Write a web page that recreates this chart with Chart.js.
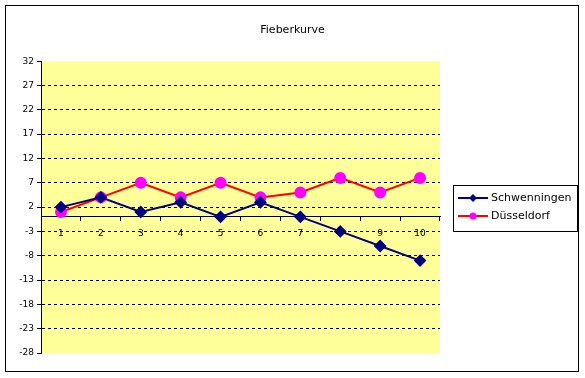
<!DOCTYPE html>
<html>
<head>
<meta charset="utf-8">
<script src="https://cdn.jsdelivr.net/npm/chart.js@4.4.0/dist/chart.umd.min.js"></script>
<style>
  html, body { margin: 0; padding: 0; background: #fff; }
  #wrap { width: 585px; height: 378px; }
</style>
</head>
<body>
<div id="wrap"><canvas id="lineChart" width="585" height="378"></canvas></div>
<script>
// data
var days = ['1', '2', '3', '4', '5', '6', '7', '8', '9', '10'];
var schwenningen = [2, 4, 1, 3, 0, 3, 0, -3, -6, -9];
var duesseldorf = [1, 4, 7, 4, 7, 4, 5, 8, 5, 8];
var yTicks = [32, 27, 22, 17, 12, 7, 2, -3, -8, -13, -18, -23, -28];

var FONT = 'DejaVu Sans';

// outer frame, yellow plot area and the boxed legend (line + marker samples)
var frame = {
    id: 'frame',
    beforeDraw: function(chart) {
        var ctx = chart.ctx, a = chart.chartArea;
        ctx.save();
        ctx.fillStyle = '#ffff99';
        ctx.fillRect(a.left, a.top, a.right - a.left, a.bottom - a.top);
        ctx.restore();
    },
    afterDraw: function(chart) {
        var ctx = chart.ctx;
        ctx.save();
        ctx.strokeStyle = '#000';
        ctx.lineWidth = 1;
        ctx.strokeRect(5.5, 5.5, 573, 366);

        var bx = 453, by = 185, bw = 124, bh = 46;
        ctx.strokeRect(bx + 0.5, by + 0.5, bw, bh);
        ctx.font = '11px ' + FONT;
        ctx.textBaseline = 'middle';
        chart.data.datasets.forEach(function(ds, i) {
            var y = by + 13 + i * 18;
            ctx.strokeStyle = ds.borderColor;
            ctx.lineWidth = 2;
            ctx.beginPath();
            ctx.moveTo(bx + 5, y); ctx.lineTo(bx + 35, y);
            ctx.stroke();
            ctx.fillStyle = ds.backgroundColor;
            ctx.beginPath();
            if (ds.pointStyle === 'rectRot') {
                ctx.moveTo(bx + 20, y - 4); ctx.lineTo(bx + 24, y);
                ctx.lineTo(bx + 20, y + 4); ctx.lineTo(bx + 16, y);
            } else {
                ctx.arc(bx + 20, y, 3.5, 0, Math.PI * 2);
            }
            ctx.closePath();
            ctx.fill();
            ctx.fillStyle = '#000';
            ctx.fillText(ds.label, bx + 38, y);
        });
        ctx.restore();
    }
};

var ctx = document.getElementById('lineChart').getContext('2d');

var feverChart = new Chart(ctx, {
    type: 'line',
    data: {
        labels: days,
        datasets: [{
            label: 'Schwenningen',
            data: schwenningen,
            borderColor: '#000080',
            backgroundColor: '#000080',
            borderWidth: 2,
            pointStyle: 'rectRot',
            pointRadius: 5,
            pointHoverRadius: 5,
            tension: 0
        }, {
            label: 'Düsseldorf',
            data: duesseldorf,
            borderColor: '#ff0000',
            backgroundColor: '#ff00ff',
            pointBorderColor: '#ff00ff',
            borderWidth: 2,
            pointStyle: 'circle',
            pointRadius: 5,
            pointHoverRadius: 5,
            tension: 0
        }]
    },
    options: {
        responsive: false,
        animation: false,
        layout: {
            padding: { left: 0, top: 0, right: 0, bottom: 25 }
        },
        plugins: {
            title: {
                display: true,
                text: 'Fieberkurve',
                color: '#000',
                font: { family: FONT, size: 11, weight: 'normal', lineHeight: 1.2 },
                padding: { top: 24, bottom: 24 }
            },
            legend: { display: false },
            tooltip: { enabled: false }
        },
        scales: {
            x: {
                position: { y: 0 },
                offset: true,
                grid: {
                    offset: true,
                    drawOnChartArea: false,
                    drawTicks: true,
                    tickLength: 4,
                    color: '#000'
                },
                border: { display: true, color: '#000', width: 1 },
                ticks: {
                    color: '#000',
                    font: { family: FONT, size: 9 },
                    padding: 7,
                    maxRotation: 0
                }
            },
            y: {
                min: -28,
                max: 32,
                afterBuildTicks: function(scale) {
                    scale.ticks = yTicks.map(function(v) { return { value: v }; });
                },
                afterFit: function(scale) {
                    scale.width = 41;
                },
                grid: {
                    color: function(c) {
                        var v = c.tick ? c.tick.value : null;
                        return (v === 32 || v === -28) ? 'rgba(0,0,0,0)' : '#000';
                    },
                    tickColor: '#000',
                    tickLength: 4,
                    tickBorderDash: []
                },
                border: { display: true, color: '#000', width: 1, dash: [3, 3] },
                ticks: {
                    color: '#000',
                    font: { family: FONT, size: 9 },
                    padding: 3,
                    autoSkip: false
                }
            },
            // empty right-hand box that leaves room for the legend
            room: {
                position: 'right',
                min: 0,
                max: 1,
                grid: { display: false },
                border: { display: false },
                ticks: { display: false },
                afterFit: function(scale) {
                    scale.width = 145;
                }
            }
        }
    },
    plugins: [frame]
});
</script>
</body>
</html>
